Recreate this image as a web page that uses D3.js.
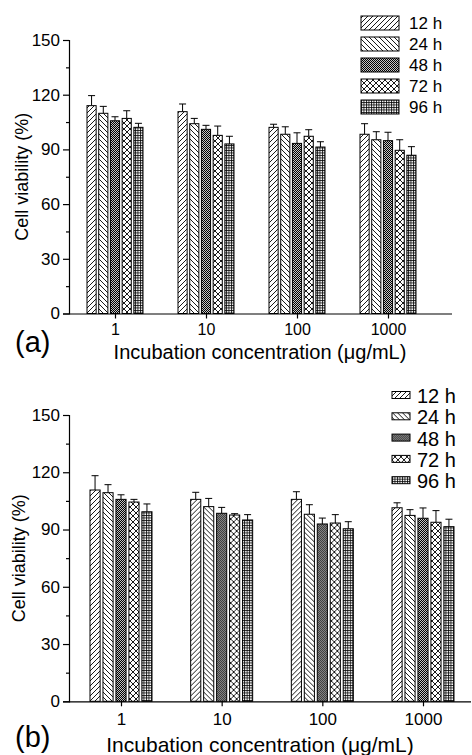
<!DOCTYPE html>
<html>
<head>
<meta charset="utf-8">
<script src="https://cdn.jsdelivr.net/npm/d3@7"></script>
<style>
  body { margin: 0; background: #fff; }
  text { font-family: Arial, "Liberation Sans", sans-serif; fill: #000; }
</style>
</head>
<body>
<div id="chart"></div>
<script>
'use strict';

var categories = ["1", "10", "100", "1000"];
var series = ["12 h", "24 h", "48 h", "72 h", "96 h"];
var yTicks = [0, 30, 60, 90, 120, 150];

// panel (a): values per concentration, one entry per series
var valuesA = [
    [114.0, 109.8, 105.7, 107.0, 102.1],
    [110.7, 104.1, 101.0, 97.7, 93.0],
    [102.1, 98.3, 93.3, 97.2, 91.3],
    [98.3, 95.3, 94.8, 89.5, 86.8]
];
var errorsA = [
    [5.5, 3.8, 2.2, 4.2, 2.2],
    [4.2, 2.9, 2.2, 5.1, 4.2],
    [1.7, 4.1, 5.8, 3.6, 2.9],
    [5.8, 4.4, 4.6, 5.8, 4.7]
];

// panel (b)
var valuesB = [
    [110.7, 109.3, 105.8, 104.4, 99.3],
    [105.8, 102.0, 98.5, 97.6, 95.0],
    [105.8, 98.0, 92.9, 93.4, 90.4],
    [101.4, 97.4, 95.9, 93.8, 91.5]
];
var errorsB = [
    [7.5, 4.2, 2.4, 1.4, 4.1],
    [3.7, 4.3, 3.1, 0.7, 2.8],
    [4.0, 5.0, 3.1, 4.4, 3.7],
    [2.6, 3.0, 5.4, 6.1, 3.9]
];

var svg = d3.select("#chart")
    .append("svg")
    .attr("width", 472)
    .attr("height", 755);

// hatch patterns, one per series
var defs = svg.append("defs");
function pattern(id, w, h) {
    return defs.append("pattern")
	.attr("id", id)
	.attr("patternUnits", "userSpaceOnUse")
	.attr("width", w)
	.attr("height", h);
}
var p0 = pattern("p0", 5, 5);
p0.append("rect").attr("width", 5).attr("height", 5).attr("fill", "#fff");
p0.append("path").attr("d", "M-1,6 L6,-1 M-1,1 L1,-1 M4,6 L6,4")
    .attr("stroke", "#000").attr("stroke-width", 0.9);
var p1 = pattern("p1", 5, 5);
p1.append("rect").attr("width", 5).attr("height", 5).attr("fill", "#fff");
p1.append("path").attr("d", "M-1,-1 L6,6 M4,-1 L6,1 M-1,4 L1,6")
    .attr("stroke", "#000").attr("stroke-width", 0.9);
var p2 = pattern("p2", 2, 2);
p2.append("rect").attr("width", 2).attr("height", 2).attr("fill", "#c4c4c4");
p2.append("rect").attr("width", 1).attr("height", 1).attr("fill", "#000");
p2.append("rect").attr("x", 1).attr("y", 1).attr("width", 1).attr("height", 1).attr("fill", "#000");
var p3 = pattern("p3", 6, 6);
p3.append("rect").attr("width", 6).attr("height", 6).attr("fill", "#fff");
p3.append("path").attr("d", "M0,0 L6,6 M0,6 L6,0")
    .attr("stroke", "#000").attr("stroke-width", 0.9);
var p4 = pattern("p4", 2.5, 2.5);
p4.append("rect").attr("width", 2.5).attr("height", 2.5).attr("fill", "#fff");
p4.append("path").attr("d", "M0,0.5 H2.5 M0.5,0 V2.5")
    .attr("stroke", "#000").attr("stroke-width", 0.8);

function drawPanel(cfg) {
    var g = svg.append("g");
    var y = d3.scaleLinear().domain([0, 150]).range([cfg.y0, cfg.y150]);
    var x = d3.scalePoint().domain(categories).range([cfg.xFirst, cfg.xLast]);
    var inner = d3.scaleBand().domain(series)
	.range([-cfg.groupW / 2, cfg.groupW / 2]).paddingInner(0.22);

    var groups = g.selectAll(".grp")
	.data(categories)
	.enter()
	.append("g")
	.attr("transform", function(d) { return "translate(" + x(d) + ",0)"; });

    var items = groups.selectAll(".bar")
	.data(function(d, i) {
	    return series.map(function(s, j) {
		return {s: s, j: j, v: cfg.values[i][j], e: cfg.errors[i][j]};
	    });
	})
	.enter();

    // error bars (upper half only)
    items.append("line")
	.attr("x1", function(d) { return inner(d.s) + inner.bandwidth() / 2; })
	.attr("x2", function(d) { return inner(d.s) + inner.bandwidth() / 2; })
	.attr("y1", function(d) { return y(d.v); })
	.attr("y2", function(d) { return y(d.v + d.e); })
	.attr("stroke", "#000").attr("stroke-width", 1);
    items.append("line")
	.attr("x1", function(d) { return inner(d.s) + inner.bandwidth() / 2 - 3.5; })
	.attr("x2", function(d) { return inner(d.s) + inner.bandwidth() / 2 + 3.5; })
	.attr("y1", function(d) { return y(d.v + d.e); })
	.attr("y2", function(d) { return y(d.v + d.e); })
	.attr("stroke", "#000").attr("stroke-width", 1);

    items.append("rect")
	.attr("x", function(d) { return inner(d.s); })
	.attr("width", inner.bandwidth())
	.attr("y", function(d) { return y(d.v); })
	.attr("height", function(d) { return y(0) - y(d.v); })
	.attr("fill", function(d) { return "url(#p" + d.j + ")"; })
	.attr("stroke", "#000").attr("stroke-width", 1);

    // y axis with minor ticks
    var yAxis = g.append("g")
	.attr("transform", "translate(" + cfg.x0 + ",0)")
	.call(d3.axisLeft(y).tickValues(yTicks).tickSize(6).tickPadding(3));
    yAxis.selectAll("text").attr("font-size", 17);
    g.append("g")
	.attr("transform", "translate(" + cfg.x0 + ",0)")
	.call(d3.axisLeft(y).tickValues([15, 45, 75, 105, 135]).tickSize(3).tickFormat(""))
	.select(".domain").remove();

    // x axis
    var xAxis = g.append("g")
	.attr("transform", "translate(0," + cfg.y0 + ")")
	.call(d3.axisBottom(x).tickSize(5).tickPadding(cfg.xPad));
    xAxis.select(".domain")
	.attr("d", "M" + cfg.x0 + ",0.5H" + cfg.xEnd);
    xAxis.selectAll("text").attr("font-size", cfg.xTickSize);

    g.selectAll(".tick text").attr("font-family", "Arial, 'Liberation Sans', sans-serif");
    g.selectAll(".domain, .tick line").attr("stroke", "#000").attr("stroke-width", 1.2);

    g.append("text")
	.attr("transform", "translate(" + cfg.yLabelX + "," + ((cfg.y0 + cfg.y150) / 2) + ") rotate(-90)")
	.attr("text-anchor", "middle")
	.attr("dominant-baseline", "middle")
	.attr("font-size", 18)
	.text("Cell viability (%)");

    g.append("text")
	.attr("x", cfg.titleX).attr("y", cfg.titleY)
	.attr("text-anchor", "middle")
	.attr("font-size", cfg.titleSize)
	.text("Incubation concentration (\u03bcg/mL)");

    g.append("text")
	.attr("x", 15).attr("y", cfg.tagY)
	.attr("font-size", 29)
	.text(cfg.tag);

    // legend
    var leg = g.selectAll(".leg")
	.data(series)
	.enter()
	.append("g")
	.attr("transform", function(d, i) { return "translate(" + cfg.legX + "," + (cfg.legY + i * cfg.legStep) + ")"; });
    leg.append("rect")
	.attr("x", 0).attr("y", -cfg.boxH / 2 - cfg.boxShift)
	.attr("width", cfg.boxW).attr("height", cfg.boxH)
	.attr("fill", function(d, i) { return "url(#p" + i + ")"; })
	.attr("stroke", "#000").attr("stroke-width", 1);
    leg.append("text")
	.attr("x", cfg.boxW + cfg.legGap)
	.attr("dy", "0.35em")
	.attr("font-size", cfg.legSize)
	.text(function(d) { return d; });
}

drawPanel({
    values: valuesA, errors: errorsA,
    x0: 69, xEnd: 452, xFirst: 115, xLast: 388, groupW: 56,
    y0: 313.5, y150: 40, xPad: 5, xTickSize: 16,
    yLabelX: 23, titleX: 260, titleY: 359, titleSize: 20,
    tag: "(a)", tagY: 352,
    legX: 361, legY: 23, legStep: 21, boxW: 38, boxH: 14, boxShift: 0,
    legGap: 10, legSize: 17
});

drawPanel({
    values: valuesB, errors: errorsB,
    x0: 69, xEnd: 471, xFirst: 121, xLast: 423, groupW: 62,
    y0: 701.3, y150: 415, xPad: 7, xTickSize: 17,
    yLabelX: 20, titleX: 260, titleY: 752, titleSize: 21,
    tag: "(b)", tagY: 747,
    legX: 392, legY: 396, legStep: 21.3, boxW: 18, boxH: 7, boxShift: 1,
    legGap: 7, legSize: 20
});
</script>
</body>
</html>
